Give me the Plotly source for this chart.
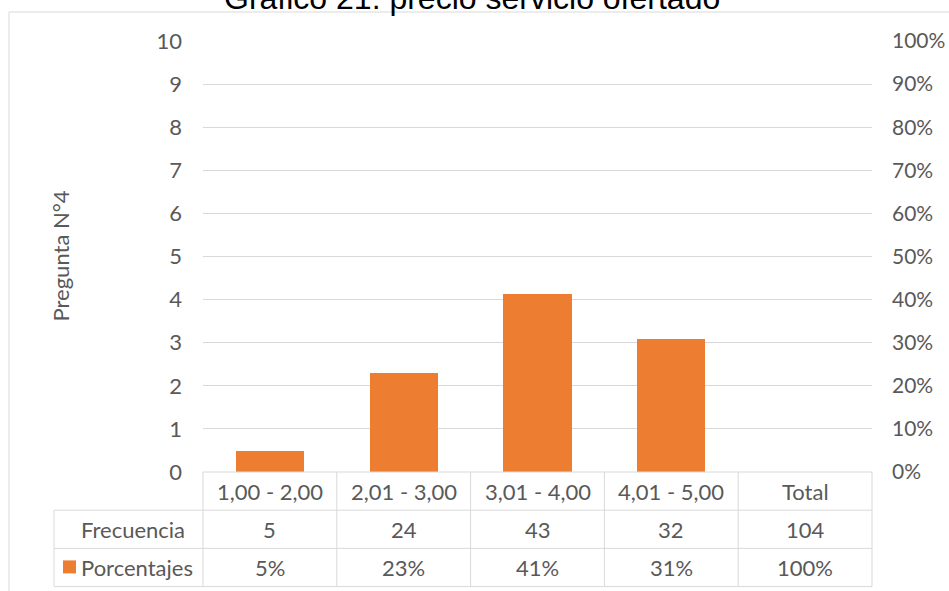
import plotly.graph_objects as go

# ---- data ----
categories = ["1,00 - 2,00", "2,01 - 3,00", "3,01 - 4,00", "4,01 - 5,00", "Total"]
frecuencia = [5, 24, 43, 32]
total = 104
porcentajes = [f / total for f in frecuencia]
left_ticks = list(range(0, 11))
right_ticks = [i / 10 for i in range(11)]
title_text = "Gráfico 21: precio servicio ofertado"
axis_title = "Pregunta N°4"

# ---- layout geometry (pixels) ----
W, H = 949, 591
PL, PR, PT, PB = 203, 872, 41, 472
ROW_H = 38.2
BAR_COLOR = "#ED7D31"
GRID = "#D9D9D9"
TXT = "#595959"
FONT = "Lato"
FS = 22


def px(x):
    return (x - PL) / (PR - PL)


def py(y):
    return (PB - y) / (PB - PT)


n_cat = len(categories)

fig = go.Figure()
# anchor trace for the left (primary) axis
fig.add_trace(go.Scatter(x=categories, y=[None] * n_cat, yaxis="y",
                         showlegend=False, hoverinfo="skip"))
fig.add_trace(go.Bar(x=categories[:len(porcentajes)], y=porcentajes, yaxis="y2",
                     marker=dict(color=BAR_COLOR, line=dict(width=0)),
                     width=0.51, name="Porcentajes", showlegend=False))

shapes = []


def line(x0, y0, x1, y1, color=GRID, w=1):
    shapes.append(dict(type="line", xref="paper", yref="paper",
                       x0=x0, y0=y0, x1=x1, y1=y1,
                       line=dict(color=color, width=w), layer="above"))


# outer frame (top and left edges)
line(px(9), py(12), px(W + 5), py(12))
line(px(9), py(12), px(9), py(H + 5))

# data table grid
r0 = PB
r1 = PB + ROW_H
r2 = PB + 2 * ROW_H
r3 = PB + 3 * ROW_H
table_left = 54
line(0, py(r0), 1, py(r0))
for r in (r1, r2, r3):
    line(px(table_left), py(r), 1, py(r))
line(px(table_left), py(r1), px(table_left), py(r3))
for k in range(n_cat + 1):
    line(k / n_cat, py(r0), k / n_cat, py(r3))

# legend key inside the table
shapes.append(dict(type="rect", xref="paper", yref="paper",
                   x0=px(63), x1=px(76), y0=py(r2 + 12), y1=py(r2 + 25),
                   fillcolor=BAR_COLOR, line=dict(width=0), layer="above"))

annotations = []


def text(x, y, s, xref="x", xanchor="center", **kw):
    annotations.append(dict(x=x, y=py(y), xref=xref, yref="paper", text=s,
                            showarrow=False, xanchor=xanchor, yanchor="middle",
                            font=dict(family=FONT, size=FS, color=TXT), **kw))


freq_row = [str(f) for f in frecuencia] + [str(total)]
pct_row = [f"{p * 100:.0f}%" for p in porcentajes] + [f"{total / total * 100:.0f}%"]
for i, c in enumerate(categories):
    text(c, (r0 + r1) / 2, c)
    text(c, (r1 + r2) / 2, freq_row[i])
    text(c, (r2 + r3) / 2, pct_row[i])
text(px(79), (r1 + r2) / 2, "Frecuencia", xref="paper", xanchor="left")
text(px(79), (r2 + r3) / 2, "Porcentajes", xref="paper", xanchor="left")

# vertical axis title
annotations.append(dict(x=px(60), y=0.5, xref="paper", yref="paper", text=axis_title,
                        textangle=-90, showarrow=False, xanchor="center", yanchor="middle",
                        font=dict(family=FONT, size=FS, color=TXT)))

# chart title
annotations.append(dict(x=px(472), y=py(18), xref="paper", yref="paper", text=title_text,
                        showarrow=False, xanchor="center", yanchor="bottom",
                        font=dict(family="Liberation Sans", size=32, color="#000000")))

fig.update_layout(
    width=W, height=H,
    margin=dict(l=PL, r=W - PR, t=PT, b=H - PB, pad=0, autoexpand=False),
    paper_bgcolor="white", plot_bgcolor="white",
    showlegend=False,
    bargap=0,
    xaxis=dict(type="category", categoryorder="array", categoryarray=categories,
               range=[-0.5, n_cat - 0.5], showticklabels=False, showgrid=False,
               zeroline=False, showline=False, ticks="", automargin=False),
    yaxis=dict(range=[0, 10], tickvals=left_ticks, showgrid=True, gridcolor=GRID,
               gridwidth=1, zeroline=False, showline=False, ticks="",
               ticklabelstandoff=20, automargin=False,
               tickfont=dict(family=FONT, size=FS, color=TXT)),
    yaxis2=dict(range=[0, 1], tickvals=right_ticks, tickformat=".0%", overlaying="y",
                side="right", showgrid=False, zeroline=False, showline=False, ticks="",
                ticklabelstandoff=19, automargin=False,
                tickfont=dict(family=FONT, size=21, color=TXT)),
    shapes=shapes,
    annotations=annotations,
)

fig.write_html("out.html")
